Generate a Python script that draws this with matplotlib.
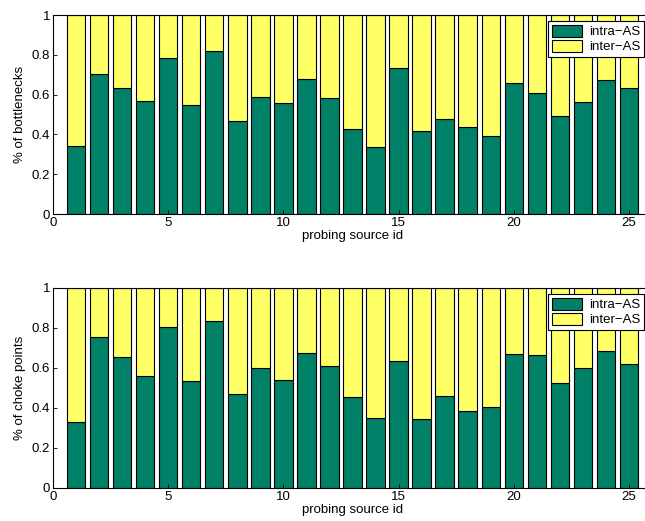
import numpy as np
import matplotlib
matplotlib.use('Agg')
import matplotlib.pyplot as plt

plt.rcParams['font.family'] = ['Liberation Sans', 'DejaVu Sans']
plt.rcParams['font.size'] = 9.5

# probing source ids
src_id = np.arange(1, 26)

# fraction of bottlenecks that are intra-AS (rest is inter-AS)
bottleneck_intra = [0.34, 0.706, 0.634, 0.566, 0.785, 0.549, 0.821, 0.466, 0.589, 0.559,
                    0.678, 0.585, 0.429, 0.336, 0.736, 0.417, 0.476, 0.436, 0.392, 0.656,
                    0.606, 0.492, 0.563, 0.671, 0.631]

# fraction of choke points that are intra-AS
choke_intra = [0.33, 0.755, 0.655, 0.561, 0.806, 0.533, 0.834, 0.469, 0.6, 0.539,
               0.673, 0.61, 0.456, 0.35, 0.637, 0.343, 0.462, 0.384, 0.404, 0.668,
               0.665, 0.526, 0.601, 0.685, 0.62]

green = '#008066'
yellow = '#ffff66'

fig = plt.figure(figsize=(6.45, 5.21), dpi=100)

# axes placed in pixel coords of the reference (left 53, right runs past the edge)
W, H = 645.0, 521.0
ax1 = fig.add_axes([53 / W, 1 - 214 / H, (652 - 53) / W, 199 / H])
ax2 = fig.add_axes([53 / W, 1 - 488 / H, (652 - 53) / W, 200 / H])

for ax, intra, ylab in [(ax1, bottleneck_intra, '% of bottlenecks'),
                        (ax2, choke_intra, '% of choke points')]:
    intra = np.array(intra)
    inter = 1 - intra
    ax.bar(src_id, intra, width=0.8, color=green, edgecolor='black', linewidth=0.8,
           label='intra\u2212AS')
    ax.bar(src_id, inter, width=0.8, bottom=intra, color=yellow, edgecolor='black',
           linewidth=0.8, label='inter\u2212AS')
    ax.set_xlim(0, 26)
    ax.set_ylim(0, 1)
    ax.set_xticks([0, 5, 10, 15, 20, 25])
    ax.set_yticks([0, 0.2, 0.4, 0.6, 0.8, 1])
    ax.set_yticklabels(['0', '0.2', '0.4', '0.6', '0.8', '1'])
    ax.tick_params(direction='in', length=3, width=0.6, pad=2)
    ax.set_ylabel(ylab, labelpad=4)
    ax.set_xlabel('probing source id', labelpad=1)
    for s in ax.spines.values():
        s.set_linewidth(0.8)

    # legend box sits at the top right of the figure
    top = ax.get_position().y1
    ax.legend(loc='upper right', bbox_to_anchor=(644 / W, top - 6 / H),
              bbox_transform=fig.transFigure, fancybox=False, edgecolor='black',
              framealpha=1, borderpad=0.3, labelspacing=0.1, handlelength=2.3,
              handleheight=1.0, handletextpad=0.5, borderaxespad=0,
              fontsize=9.5).get_frame().set_linewidth(0.8)

fig.savefig('out.png', dpi=100)
